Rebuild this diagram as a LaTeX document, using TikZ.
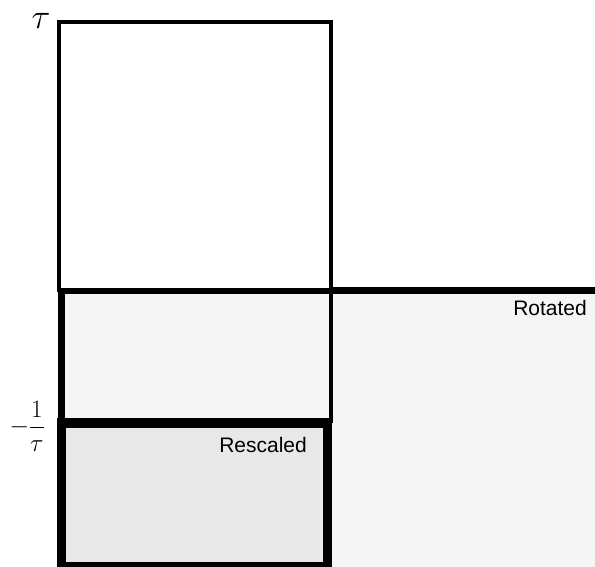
\RequirePackage{fix-cm}
\documentclass[tikz,border=0pt]{standalone}
\usepackage{amsmath}
\usepackage{fontspec}
\newfontfamily\tagfont{Liberation Sans}
\usetikzlibrary{positioning}
\definecolor{rotgray}{RGB}{245,245,245}
\definecolor{resgray}{RGB}{232,232,232}
\tikzstyle{squarebox} = [draw=black, fill=white, line width=4.5pt]
\tikzstyle{rotbox} = [draw=black, fill=rotgray, line width=7pt]
\tikzstyle{resbox} = [draw=black, fill=resgray, line width=9.5pt]
\tikzstyle{edge} = [draw=black, line width=4.5pt]
\tikzstyle{tag} = [font=\fontsize{21}{25}\selectfont\tagfont, anchor=base east, inner sep=0pt]

\begin{document}
\begin{tikzpicture}[x=1pt, y=-1pt]
\useasboundingbox (0,0) rectangle (595,567);
\clip (0,0) rectangle (595,567);

% Regions
\draw [rotbox] (61,290) rectangle (640,620);
\draw [squarebox] (59,22) rectangle (331,290);
\draw [edge] (331,290) -- (331,423);
\draw [resbox] (61.5,423) rectangle (327.5,567);

% Axis marks
\node (tau) [inner sep=0pt] at (41,21) {\fontsize{35}{42}\selectfont$\tau$};
\node (minv) [inner sep=0pt, anchor=east] at (45,426) {\fontsize{25}{30}\selectfont$-\dfrac{1}{\tau}$};

% Labels
\node (rot) [tag] at (587,315) {Rotated};
\node (resc) [tag] at (307,452) {Rescaled};

\end{tikzpicture}
\end{document}
